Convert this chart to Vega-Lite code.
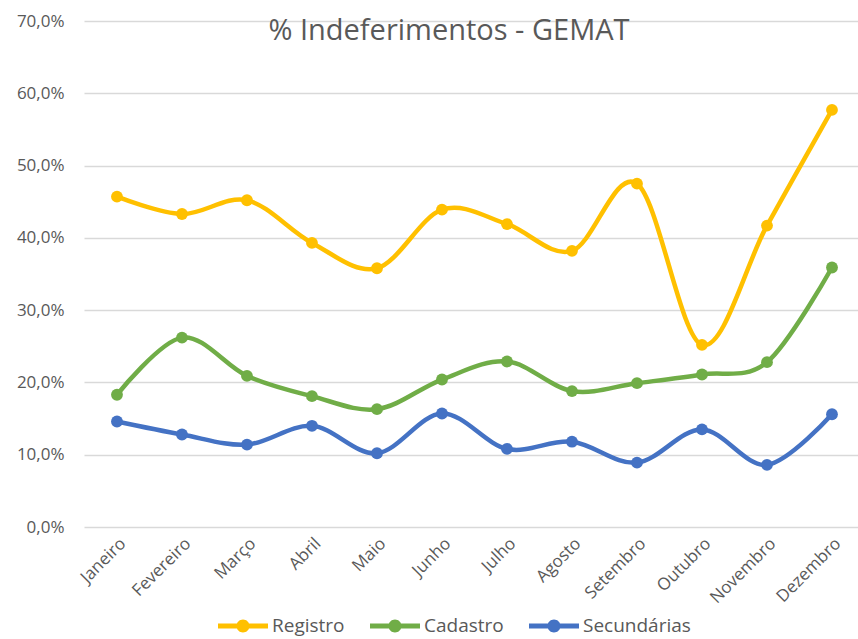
{
  "$schema": "https://vega.github.io/schema/vega-lite/v6.json",
  "width": 774,
  "height": 506,
  "autosize": {"type": "none"},
  "padding": {"left": 84, "top": 21, "right": 0, "bottom": 112},
  "background": "white",
  "config": {"view": {"stroke": null}, "font": "Open Sans"},
  "title": {"text": "% Indeferimentos  - GEMAT", "fontSize": 29, "fontWeight": "normal", "color": "#595959", "anchor": "middle", "frame": "group", "dx": -22, "offset": -34, "font": "Open Sans"},
  "data": {"values": [
    {"mes": "Janeiro", "serie": "Registro", "valor": 0.457},
    {"mes": "Fevereiro", "serie": "Registro", "valor": 0.433},
    {"mes": "Março", "serie": "Registro", "valor": 0.452},
    {"mes": "Abril", "serie": "Registro", "valor": 0.393},
    {"mes": "Maio", "serie": "Registro", "valor": 0.358},
    {"mes": "Junho", "serie": "Registro", "valor": 0.439},
    {"mes": "Julho", "serie": "Registro", "valor": 0.419},
    {"mes": "Agosto", "serie": "Registro", "valor": 0.382},
    {"mes": "Setembro", "serie": "Registro", "valor": 0.475},
    {"mes": "Outubro", "serie": "Registro", "valor": 0.252},
    {"mes": "Novembro", "serie": "Registro", "valor": 0.417},
    {"mes": "Dezembro", "serie": "Registro", "valor": 0.577},
    {"mes": "Janeiro", "serie": "Cadastro", "valor": 0.183},
    {"mes": "Fevereiro", "serie": "Cadastro", "valor": 0.262},
    {"mes": "Março", "serie": "Cadastro", "valor": 0.209},
    {"mes": "Abril", "serie": "Cadastro", "valor": 0.181},
    {"mes": "Maio", "serie": "Cadastro", "valor": 0.163},
    {"mes": "Junho", "serie": "Cadastro", "valor": 0.204},
    {"mes": "Julho", "serie": "Cadastro", "valor": 0.229},
    {"mes": "Agosto", "serie": "Cadastro", "valor": 0.188},
    {"mes": "Setembro", "serie": "Cadastro", "valor": 0.199},
    {"mes": "Outubro", "serie": "Cadastro", "valor": 0.211},
    {"mes": "Novembro", "serie": "Cadastro", "valor": 0.228},
    {"mes": "Dezembro", "serie": "Cadastro", "valor": 0.359},
    {"mes": "Janeiro", "serie": "Secundárias", "valor": 0.146},
    {"mes": "Fevereiro", "serie": "Secundárias", "valor": 0.128},
    {"mes": "Março", "serie": "Secundárias", "valor": 0.114},
    {"mes": "Abril", "serie": "Secundárias", "valor": 0.140},
    {"mes": "Maio", "serie": "Secundárias", "valor": 0.102},
    {"mes": "Junho", "serie": "Secundárias", "valor": 0.157},
    {"mes": "Julho", "serie": "Secundárias", "valor": 0.108},
    {"mes": "Agosto", "serie": "Secundárias", "valor": 0.118},
    {"mes": "Setembro", "serie": "Secundárias", "valor": 0.089},
    {"mes": "Outubro", "serie": "Secundárias", "valor": 0.135},
    {"mes": "Novembro", "serie": "Secundárias", "valor": 0.086},
    {"mes": "Dezembro", "serie": "Secundárias", "valor": 0.156}
  ]},
  "encoding": {
    "x": {
      "field": "mes", "type": "ordinal",
      "sort": ["Janeiro", "Fevereiro", "Março", "Abril", "Maio", "Junho", "Julho", "Agosto", "Setembro", "Outubro", "Novembro", "Dezembro"],
      "scale": {"type": "point", "padding": 0.4538, "align": 0.559},
      "axis": {"title": null, "labelAngle": -45, "labelFontSize": 17, "labelColor": "#595959", "ticks": false, "domain": false, "grid": false, "labelPadding": 8, "labelFont": "Open Sans"}
    },
    "y": {
      "field": "valor", "type": "quantitative",
      "scale": {"domain": [0, 0.7]},
      "axis": {"title": null, "values": [0, 0.1, 0.2, 0.3, 0.4, 0.5, 0.6, 0.7], "labelExpr": "replace(format(datum.value, '.1%'), '.', ',')", "labelFontSize": 17, "labelColor": "#595959", "ticks": false, "domain": false, "gridColor": "#D9D9D9", "gridWidth": 1.5, "labelPadding": 20, "labelFont": "Open Sans"}
    },
    "color": {
      "field": "serie", "type": "nominal",
      "sort": ["Registro", "Cadastro", "Secundárias"],
      "scale": {"domain": ["Registro", "Cadastro", "Secundárias"], "range": ["#FFC000", "#70AD47", "#4472C4"]},
      "legend": {
        "title": null, "orient": "none", "direction": "horizontal", "legendX": 134, "legendY": 580,
        "symbolType": "M-1,-0.1L1,-0.1L1,0.1L-1,0.1Z M0.26,0A0.26,0.26,0,1,1,-0.26,0A0.26,0.26,0,1,1,0.26,0Z",
        "symbolSize": 2500, "symbolStrokeWidth": 0, "labelFontSize": 19, "labelColor": "#595959", "labelFont": "Open Sans", "labelOffset": 4, "columnPadding": 25,
        "encode": {"symbols": {"update": {"fill": {"scale": "color", "field": "value"}, "stroke": {"value": "transparent"}, "opacity": {"value": 1}}}}
      }
    }
  },
  "layer": [
    {"mark": {"type": "line", "interpolate": "cardinal", "strokeWidth": 4.5}},
    {"mark": {"type": "point", "filled": true, "size": 140, "opacity": 1}}
  ]
}
